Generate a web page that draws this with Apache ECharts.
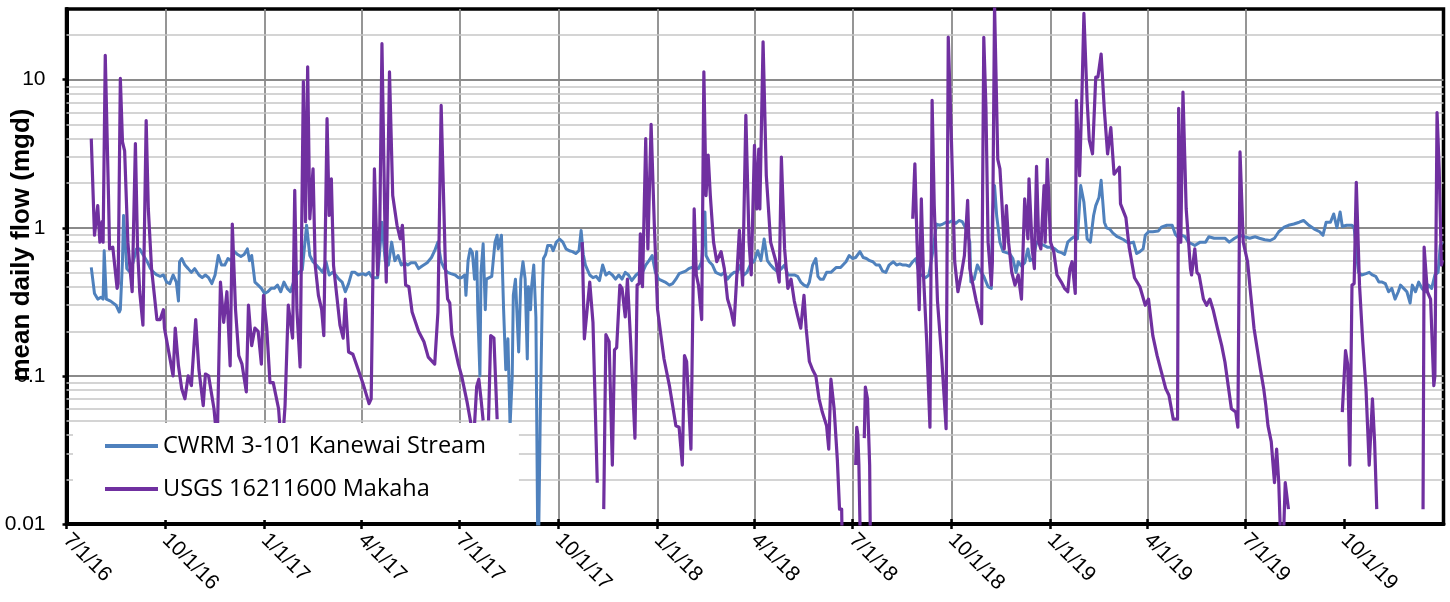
<!DOCTYPE html>
<html><head><meta charset="utf-8">
<script src="https://cdn.jsdelivr.net/npm/echarts@6/dist/echarts.min.js"></script>
<style>html,body{margin:0;padding:0;background:#fff}#c{width:1450px;height:602px}</style>
</head><body><div id="c"></div>
<script>
const seriesNames = ['CWRM 3-101 Kanewai Stream', 'USGS 16211600 Makaha'];
const tickDates = ['2016-07-01','2016-10-01','2017-01-01','2017-04-01','2017-07-01','2017-10-01','2018-01-01','2018-04-01','2018-07-01','2018-10-01','2019-01-01','2019-04-01','2019-07-01','2019-10-01'];
const tickLabels = ['7/1/16','10/1/16','1/1/17','4/1/17','7/1/17','10/1/17','1/1/18','4/1/18','7/1/18','10/1/18','1/1/19','4/1/19','7/1/19','10/1/19'];
const xRange = ['2016-07-01', '2020-01-01'];
const yMajorTicks = [0.01, 0.1, 1, 10];
const yRange = [0.01, 30];
const yMinorGrid = [0.02,0.03,0.04,0.05,0.06,0.07,0.08,0.09,0.2,0.3,0.4,0.5,0.6,0.7,0.8,0.9,2,3,4,5,6,7,8,9,20];

const kanewai = [
['2016-07-24',0.54],['2016-07-27',0.36],['2016-07-30',0.33],['2016-08-02',0.34],['2016-08-04',0.33],['2016-08-05',0.70],['2016-08-07',0.33],['2016-08-11',0.32],['2016-08-16',0.30],['2016-08-19',0.27],['2016-08-20',0.28],['2016-08-22',0.6],['2016-08-23',1.21],['2016-08-26',0.53],['2016-08-29',0.5],['2016-09-01',0.59],['2016-09-04',0.72],['2016-09-07',0.72],['2016-09-10',0.66],['2016-09-14',0.59],['2016-09-17',0.53],['2016-09-20',0.5],['2016-09-23',0.48],['2016-09-26',0.47],['2016-09-29',0.48],
['2016-10-02',0.43],['2016-10-05',0.42],['2016-10-08',0.48],['2016-10-11',0.43],['2016-10-13',0.32],['2016-10-14',0.59],['2016-10-16',0.62],['2016-10-19',0.56],['2016-10-22',0.53],['2016-10-25',0.5],['2016-10-28',0.53],['2016-11-01',0.48],['2016-11-04',0.46],['2016-11-07',0.48],['2016-11-10',0.46],['2016-11-13',0.42],['2016-11-16',0.48],['2016-11-19',0.65],['2016-11-22',0.56],['2016-11-25',0.56],['2016-11-28',0.62],['2016-12-01',0.6],['2016-12-04',0.69],['2016-12-07',0.66],['2016-12-10',0.64],['2016-12-13',0.66],['2016-12-16',0.72],['2016-12-18',0.6],['2016-12-20',0.65],['2016-12-23',0.43],['2016-12-26',0.41],['2016-12-29',0.39],
['2017-01-01',0.36],['2017-01-04',0.37],['2017-01-07',0.39],['2017-01-10',0.39],['2017-01-13',0.41],['2017-01-16',0.37],['2017-01-19',0.43],['2017-01-22',0.39],['2017-01-25',0.37],['2017-01-30',0.48],['2017-02-02',0.5],['2017-02-05',0.52],['2017-02-09',1.04],['2017-02-12',0.65],['2017-02-15',0.59],['2017-02-18',0.56],['2017-02-21',0.53],['2017-02-24',0.5],['2017-02-27',0.59],['2017-03-02',0.48],['2017-03-05',0.5],['2017-03-08',0.48],['2017-03-11',0.45],['2017-03-14',0.43],['2017-03-17',0.37],['2017-03-20',0.42],['2017-03-23',0.5],['2017-03-26',0.5],['2017-03-29',0.48],
['2017-04-02',0.49],['2017-04-05',0.48],['2017-04-08',0.5],['2017-04-11',0.46],['2017-04-16',0.46],['2017-04-20',1.09],['2017-04-23',0.6],['2017-04-26',0.56],['2017-04-29',0.8],['2017-05-02',0.6],['2017-05-05',0.65],['2017-05-08',0.56],['2017-05-11',0.58],['2017-05-14',0.56],['2017-05-17',0.58],['2017-05-21',0.58],['2017-05-24',0.53],['2017-05-27',0.55],['2017-06-01',0.58],['2017-06-05',0.63],['2017-06-08',0.70],['2017-06-11',0.8],['2017-06-14',0.59],['2017-06-17',0.53],['2017-06-20',0.5],['2017-06-23',0.49],['2017-06-27',0.48],['2017-06-30',0.46],
['2017-07-03',0.46],['2017-07-06',0.48],['2017-07-07',0.35],['2017-07-09',0.6],['2017-07-11',0.72],['2017-07-13',0.68],['2017-07-15',0.45],['2017-07-17',0.69],['2017-07-18',0.28],['2017-07-20',0.1],['2017-07-21',0.5],['2017-07-23',0.78],['2017-07-25',0.28],['2017-07-26',0.45],['2017-07-31',0.47],['2017-08-03',0.8],['2017-08-05',0.89],['2017-08-06',0.72],['2017-08-09',0.89],['2017-08-11',0.28],['2017-08-13',0.11],['2017-08-15',0.178],['2017-08-17',0.046],['2017-08-19',0.1],['2017-08-20',0.35],['2017-08-22',0.45],['2017-08-25',0.145],['2017-08-27',0.45],['2017-08-29',0.59],['2017-08-31',0.45],['2017-09-02',0.13],['2017-09-03',0.4],['2017-09-05',0.28],['2017-09-06',0.4],['2017-09-08',0.56],['2017-09-10',0.25],['2017-09-12',0.004],['2017-09-14',0.05],['2017-09-16',0.37],['2017-09-17',0.62],['2017-09-19',0.66],['2017-09-21',0.76],['2017-09-24',0.76],['2017-09-26',0.7],['2017-09-29',0.8],
['2017-10-02',0.84],['2017-10-05',0.8],['2017-10-08',0.72],['2017-10-11',0.7],['2017-10-14',0.69],['2017-10-17',0.67],['2017-10-20',0.7],['2017-10-22',0.96],['2017-10-24',0.66],['2017-10-26',0.56],['2017-10-30',0.48],['2017-11-02',0.46],['2017-11-05',0.47],['2017-11-08',0.44],['2017-11-11',0.56],['2017-11-14',0.48],['2017-11-17',0.5],['2017-11-20',0.48],['2017-11-23',0.45],['2017-11-26',0.48],['2017-11-29',0.45],['2017-12-02',0.5],['2017-12-05',0.48],['2017-12-08',0.44],['2017-12-12',0.48],['2017-12-15',0.5],['2017-12-18',0.5],['2017-12-21',0.56],['2017-12-24',0.6],['2017-12-27',0.65],['2017-12-30',0.5],
['2018-01-02',0.45],['2018-01-05',0.44],['2018-01-08',0.43],['2018-01-12',0.41],['2018-01-15',0.42],['2018-01-18',0.45],['2018-01-21',0.49],['2018-01-24',0.5],['2018-01-27',0.51],['2018-01-30',0.53],['2018-02-02',0.54],['2018-02-05',0.54],['2018-02-08',0.53],['2018-02-11',0.59],['2018-02-14',1.28],['2018-02-15',0.65],['2018-02-18',0.59],['2018-02-21',0.56],['2018-02-24',0.5],['2018-03-01',0.48],['2018-03-04',0.5],['2018-03-07',0.45],['2018-03-10',0.48],['2018-03-13',0.5],['2018-03-16',0.5],['2018-03-19',0.56],['2018-03-22',0.48],['2018-03-25',0.5],['2018-03-28',0.56],
['2018-04-01',0.6],['2018-04-04',0.70],['2018-04-07',0.6],['2018-04-10',0.84],['2018-04-13',0.6],['2018-04-16',0.56],['2018-04-19',0.53],['2018-04-23',0.5],['2018-04-26',0.53],['2018-04-29',0.56],['2018-05-02',0.48],['2018-05-05',0.48],['2018-05-08',0.48],['2018-05-11',0.47],['2018-05-14',0.43],['2018-05-17',0.41],['2018-05-20',0.40],['2018-05-22',0.43],['2018-05-25',0.56],['2018-05-28',0.62],['2018-05-30',0.47],['2018-06-01',0.45],['2018-06-04',0.45],['2018-06-07',0.5],['2018-06-11',0.5],['2018-06-16',0.54],['2018-06-20',0.54],['2018-06-25',0.59],['2018-06-28',0.65],
['2018-07-01',0.62],['2018-07-04',0.63],['2018-07-08',0.69],['2018-07-11',0.63],['2018-07-14',0.62],['2018-07-17',0.6],['2018-07-20',0.59],['2018-07-23',0.56],['2018-07-26',0.56],['2018-07-29',0.51],['2018-08-01',0.5],['2018-08-04',0.56],['2018-08-08',0.59],['2018-08-11',0.56],['2018-08-14',0.57],['2018-08-17',0.56],['2018-08-20',0.56],['2018-08-23',0.55],['2018-08-26',0.59],['2018-08-29',0.62],['2018-09-01',0.49],['2018-09-07',0.46],['2018-09-10',0.48],['2018-09-14',0.72],['2018-09-17',1.06],['2018-09-20',1.04],['2018-09-23',1.06],['2018-09-26',1.09],['2018-09-29',1.09],
['2018-10-02',1.12],['2018-10-05',1.07],['2018-10-08',1.12],['2018-10-11',1.1],['2018-10-14',1.0],['2018-10-18',0.8],['2018-10-19',0.43],['2018-10-22',0.45],['2018-10-25',0.56],['2018-10-28',0.51],['2018-10-31',0.47],['2018-11-04',0.4],['2018-11-07',0.39],['2018-11-08',1.2],['2018-11-10',1.93],['2018-11-12',1.2],['2018-11-15',0.8],['2018-11-18',0.69],['2018-11-21',0.68],['2018-11-24',0.67],['2018-11-27',0.62],['2018-11-30',0.5],['2018-12-02',0.59],['2018-12-05',0.55],['2018-12-08',0.58],['2018-12-11',0.72],['2018-12-13',0.6],['2018-12-16',0.62],['2018-12-19',0.8],['2018-12-22',0.78],['2018-12-26',0.76],['2018-12-29',0.74],
['2019-01-02',0.74],['2019-01-05',0.72],['2019-01-08',0.69],['2019-01-11',0.68],['2019-01-14',0.66],['2019-01-17',0.8],['2019-01-20',0.84],['2019-01-23',0.87],['2019-01-26',0.84],['2019-01-29',1.93],['2019-02-01',1.49],['2019-02-04',0.84],['2019-02-07',0.8],['2019-02-10',1.21],['2019-02-12',1.41],['2019-02-15',1.6],['2019-02-17',2.09],['2019-02-20',1.09],['2019-02-22',1.0],['2019-02-25',0.98],['2019-02-28',0.92],['2019-03-04',0.87],['2019-03-07',0.85],['2019-03-10',0.83],['2019-03-13',0.8],['2019-03-16',0.79],['2019-03-19',0.8],['2019-03-22',0.67],['2019-03-25',0.69],['2019-03-28',0.72],['2019-03-30',0.89],
['2019-04-02',0.94],['2019-04-06',0.94],['2019-04-11',0.95],['2019-04-14',1.01],['2019-04-19',1.04],['2019-04-24',1.04],['2019-04-27',0.9],['2019-04-29',0.87],['2019-05-03',0.89],['2019-05-06',0.87],['2019-05-09',0.8],['2019-05-12',0.78],['2019-05-15',0.76],['2019-05-20',0.8],['2019-05-25',0.8],['2019-05-28',0.87],['2019-06-02',0.85],['2019-06-07',0.85],['2019-06-12',0.85],['2019-06-16',0.8],['2019-06-21',0.85],['2019-06-26',0.89],['2019-06-30',0.87],
['2019-07-05',0.85],['2019-07-10',0.87],['2019-07-14',0.85],['2019-07-19',0.83],['2019-07-24',0.82],['2019-07-28',0.85],['2019-08-01',0.94],['2019-08-06',1.01],['2019-08-10',1.04],['2019-08-15',1.06],['2019-08-20',1.09],['2019-08-24',1.12],['2019-08-29',1.04],['2019-09-03',0.98],['2019-09-08',0.94],['2019-09-11',0.89],['2019-09-14',1.09],['2019-09-18',1.09],['2019-09-21',1.24],['2019-09-24',1.0],['2019-09-27',1.28],['2019-09-29',1.02],
['2019-10-03',1.04],['2019-10-08',1.04],['2019-10-10',1.0],['2019-10-14',0.5],['2019-10-17',0.48],['2019-10-21',0.49],['2019-10-24',0.5],['2019-10-27',0.48],['2019-10-30',0.47],['2019-11-02',0.43],['2019-11-05',0.43],['2019-11-08',0.42],['2019-11-11',0.37],['2019-11-14',0.39],['2019-11-17',0.33],['2019-11-20',0.37],['2019-11-22',0.41],['2019-11-25',0.39],['2019-11-28',0.37],['2019-12-01',0.31],['2019-12-03',0.41],['2019-12-06',0.37],['2019-12-09',0.43],['2019-12-12',0.39],['2019-12-15',0.37],['2019-12-18',0.41],['2019-12-21',0.39],['2019-12-24',0.48],['2019-12-27',0.5],['2019-12-29',0.76],['2019-12-31',0.8]
];

const makaha = [
['2016-07-24',4.0],['2016-07-27',0.89],['2016-07-30',1.41],['2016-08-01',0.80],['2016-08-03',1.1],['2016-08-04',0.8],['2016-08-06',14.6],['2016-08-09',1.65],['2016-08-10',0.72],['2016-08-13',0.74],['2016-08-17',0.39],['2016-08-18',0.42],['2016-08-20',10.2],['2016-08-22',3.8],['2016-08-24',3.3],['2016-08-27',0.80],['2016-08-29',0.53],['2016-08-31',0.37],['2016-09-03',3.7],['2016-09-05',0.72],['2016-09-07',0.37],['2016-09-10',0.22],['2016-09-13',5.3],['2016-09-15',1.34],['2016-09-18',0.53],['2016-09-23',0.24],['2016-09-26',0.24],['2016-09-29',0.28],['2016-09-30',0.21],
['2016-10-04',0.145],['2016-10-08',0.10],['2016-10-10',0.21],['2016-10-13',0.117],['2016-10-16',0.082],['2016-10-19',0.07],['2016-10-22',0.10],['2016-10-25',0.086],['2016-10-29',0.24],['2016-11-01',0.11],['2016-11-05',0.063],['2016-11-07',0.103],['2016-11-10',0.10],['2016-11-15',0.06],['2016-11-18',0.035],['2016-11-21',0.43],['2016-11-24',0.23],['2016-11-27',0.37],['2016-11-30',0.117],['2016-12-02',1.06],['2016-12-05',0.28],['2016-12-08',0.137],['2016-12-11',0.12],['2016-12-15',0.078],['2016-12-17',0.30],['2016-12-20',0.16],['2016-12-23',0.21],['2016-12-26',0.20],['2016-12-29',0.12],['2016-12-31',0.35],
['2017-01-03',0.21],['2017-01-06',0.09],['2017-01-09',0.09],['2017-01-14',0.06],['2017-01-17',0.03],['2017-01-20',0.063],['2017-01-23',0.30],['2017-01-27',0.18],['2017-01-29',1.79],['2017-01-31',0.28],['2017-02-03',0.115],['2017-02-06',9.7],['2017-02-08',1.1],['2017-02-10',12.2],['2017-02-12',1.15],['2017-02-15',2.5],['2017-02-17',0.56],['2017-02-20',0.35],['2017-02-23',0.28],['2017-02-25',0.187],['2017-02-28',5.45],['2017-03-02',1.21],['2017-03-04',2.14],['2017-03-06',0.56],['2017-03-09',0.35],['2017-03-12',0.22],['2017-03-15',0.18],['2017-03-17',0.33],['2017-03-20',0.145],['2017-03-24',0.14],['2017-03-29',0.11],
['2017-04-03',0.086],['2017-04-08',0.065],['2017-04-10',0.07],['2017-04-13',2.5],['2017-04-16',0.48],['2017-04-18',1.04],['2017-04-20',17.5],['2017-04-23',0.8],['2017-04-24',0.43],['2017-04-27',11.3],['2017-04-30',1.65],['2017-05-04',1.04],['2017-05-07',0.84],['2017-05-09',1.04],['2017-05-12',0.41],['2017-05-15',0.40],['2017-05-18',0.27],['2017-05-24',0.20],['2017-05-29',0.17],['2017-06-02',0.134],['2017-06-08',0.12],['2017-06-11',0.27],['2017-06-14',6.7],['2017-06-18',0.53],['2017-06-20',0.33],['2017-06-22',0.31],['2017-06-24',0.19],['2017-06-30',0.12],
['2017-07-03',0.10],['2017-07-08',0.067],['2017-07-12',0.046],['2017-07-15',0.047],['2017-07-17',0.085],['2017-07-19',0.095],['2017-07-21',0.07],['2017-07-23',0.05],['2017-07-25',null],['2017-07-28',0.05],['2017-07-30',0.187],['2017-08-02',0.18],['2017-08-05',0.051],['2017-08-07',null],
['2017-10-23',0.8],['2017-10-25',0.178],['2017-10-30',0.43],['2017-11-02',0.23],['2017-11-06',0.019],['2017-11-09',null],['2017-11-12',0.0126],['2017-11-14',0.19],['2017-11-17',0.17],['2017-11-20',0.025],['2017-11-22',0.15],['2017-11-24',0.155],['2017-11-27',0.41],['2017-11-29',0.39],['2017-12-02',0.25],['2017-12-04',0.45],['2017-12-07',0.17],['2017-12-11',0.038],['2017-12-13',0.41],['2017-12-15',0.42],['2017-12-16',0.91],['2017-12-18',0.4],['2017-12-21',4.0],['2017-12-23',0.72],['2017-12-26',5.0],['2017-12-29',1.04],
['2018-01-01',0.28],['2018-01-04',0.19],['2018-01-07',0.13],['2018-01-12',0.086],['2018-01-15',0.063],['2018-01-18',0.046],['2018-01-21',0.045],['2018-01-24',0.025],['2018-01-26',0.137],['2018-01-28',0.125],['2018-02-01',0.032],['2018-02-04',1.34],['2018-02-06',0.48],['2018-02-08',0.41],['2018-02-11',0.24],['2018-02-13',11.3],['2018-02-15',1.65],['2018-02-17',3.1],['2018-02-19',1.65],['2018-02-22',0.8],['2018-02-25',0.59],['2018-03-01',0.69],['2018-03-04',0.53],['2018-03-07',0.33],['2018-03-10',0.28],['2018-03-13',0.22],['2018-03-18',0.96],['2018-03-21',0.41],['2018-03-24',5.75],['2018-03-27',0.8],['2018-03-29',0.48],
['2018-04-01',3.6],['2018-04-03',1.34],['2018-04-05',3.4],['2018-04-06',1.34],['2018-04-09',18.0],['2018-04-12',2.25],['2018-04-13',1.75],['2018-04-16',0.8],['2018-04-21',0.59],['2018-04-24',0.43],['2018-04-26',3.0],['2018-04-29',0.72],['2018-05-02',0.39],['2018-05-05',0.45],['2018-05-08',0.32],['2018-05-11',0.256],['2018-05-14',0.21],['2018-05-17',0.35],['2018-05-19',0.21],['2018-05-22',0.125],['2018-05-25',0.11],['2018-05-28',0.10],['2018-05-31',0.07],['2018-06-03',0.057],['2018-06-07',0.046],['2018-06-09',0.032],['2018-06-11',0.095],['2018-06-14',0.06],['2018-06-17',0.027],['2018-06-19',0.0126],['2018-06-21',0.0126],['2018-06-22',0.004],['2018-06-24',null],
['2018-07-04',0.025],['2018-07-05',0.045],['2018-07-06',0.04],['2018-07-07',0.025],['2018-07-09',0.004],['2018-07-10',null],['2018-07-12',0.038],['2018-07-13',0.084],['2018-07-15',0.07],['2018-07-17',0.025],['2018-07-18',0.004],['2018-07-20',null],
['2018-08-26',1.15],['2018-08-28',2.7],['2018-08-30',0.8],['2018-09-01',0.28],['2018-09-03',1.57],['2018-09-05',0.48],['2018-09-08',0.17],['2018-09-11',0.045],['2018-09-13',7.25],['2018-09-15',1.41],['2018-09-18',0.32],['2018-09-22',0.13],['2018-09-26',0.044],['2018-09-28',19.4],
['2018-10-01',3.8],['2018-10-04',0.59],['2018-10-07',0.37],['2018-10-10',0.48],['2018-10-13',0.65],['2018-10-16',1.53],['2018-10-18',0.53],['2018-10-21',0.41],['2018-10-24',0.32],['2018-10-27',0.26],['2018-10-29',0.225],['2018-10-31',19.3],['2018-11-02',6.5],['2018-11-04',0.8],['2018-11-07',0.41],['2018-11-08',0.59],['2018-11-10',32],['2018-11-13',2.9],['2018-11-15',2.5],['2018-11-17',1.41],['2018-11-19',0.72],['2018-11-21',1.41],['2018-11-23',0.8],['2018-11-26',0.5],['2018-11-29',0.41],['2018-12-02',0.48],['2018-12-05',0.33],['2018-12-08',1.57],['2018-12-11',0.84],['2018-12-12',2.14],['2018-12-15',0.72],['2018-12-17',0.53],['2018-12-19',2.6],['2018-12-21',0.8],['2018-12-23',0.72],['2018-12-26',1.93],['2018-12-27',0.8],['2018-12-29',2.9],['2018-12-31',1.21],
['2019-01-01',0.8],['2019-01-04',0.69],['2019-01-07',0.48],['2019-01-11',0.43],['2019-01-14',0.39],['2019-01-17',0.37],['2019-01-19',0.53],['2019-01-21',0.59],['2019-01-24',0.36],['2019-01-25',7.25],['2019-01-28',2.25],['2019-01-30',7.1],['2019-02-01',28],['2019-02-04',7.2],['2019-02-06',3.9],['2019-02-09',3.16],['2019-02-12',10.4],['2019-02-14',10.4],['2019-02-17',14.9],['2019-02-20',6.2],['2019-02-23',3.15],['2019-02-26',4.75],['2019-03-01',2.3],['2019-03-06',2.56],['2019-03-07',1.45],['2019-03-12',1.17],['2019-03-15',0.74],['2019-03-20',0.46],['2019-03-25',0.40],['2019-03-30',0.30],
['2019-04-02',0.33],['2019-04-06',0.187],['2019-04-10',0.137],['2019-04-14',0.106],['2019-04-18',0.082],['2019-04-21',0.074],['2019-04-25',0.051],['2019-04-29',0.051],['2019-04-30',6.4],['2019-05-02',0.8],['2019-05-04',8.25],['2019-05-07',1.34],['2019-05-11',0.53],['2019-05-12',0.48],['2019-05-15',0.72],['2019-05-17',0.5],['2019-05-19',0.48],['2019-05-23',0.33],['2019-05-26',0.30],['2019-05-29',0.33],['2019-06-01',0.28],['2019-06-05',0.21],['2019-06-09',0.16],['2019-06-12',0.124],['2019-06-15',0.086],['2019-06-18',0.06],['2019-06-22',0.057],['2019-06-24',0.045],['2019-06-26',3.25],['2019-06-29',0.8],
['2019-07-03',0.59],['2019-07-06',0.35],['2019-07-09',0.21],['2019-07-12',0.152],['2019-07-15',0.11],['2019-07-18',0.082],['2019-07-20',0.063],['2019-07-22',0.046],['2019-07-25',0.036],['2019-07-28',0.019],['2019-07-30',0.032],['2019-08-01',0.019],['2019-08-04',0.004],['2019-08-07',0.019],['2019-08-10',0.0126],['2019-08-12',null],
['2019-09-29',0.057],['2019-10-02',0.148],['2019-10-04',0.12],['2019-10-06',0.025],['2019-10-08',0.41],['2019-10-10',0.42],['2019-10-12',2.03],['2019-10-15',0.41],['2019-10-18',0.17],['2019-10-21',0.082],['2019-10-24',0.025],['2019-10-27',0.07],['2019-10-29',0.036],['2019-10-31',0.0126],['2019-11-02',null],
['2019-12-13',0.0126],['2019-12-14',0.74],['2019-12-17',0.37],['2019-12-20',0.33],['2019-12-23',0.086],['2019-12-24',0.1],['2019-12-26',6.0],['2019-12-28',2.5],['2019-12-30',0.56],['2019-12-31',0.6]
];

const COLORS = ['#4F81BD', '#7030A0'];
function ts(s) { const p = s.split('-').map(Number); return Date.UTC(p[0], p[1] - 1, p[2]); }
const toXY = arr => arr.map(d => [ts(d[0]), d[1] === null ? '-' : d[1]]);
const tickTs = tickDates.map(ts);
const xMin = ts(xRange[0]), xMax = ts(xRange[1]);

function xLabel(v) {
  const i = tickTs.findIndex(t => Math.abs(t - v) < 43200000);
  return i < 0 ? '' : tickLabels[i];
}
function yLabel(v) {
  const m = yMajorTicks.find(t => Math.abs(Math.log10(v / t)) < 0.01);
  return m === undefined ? '' : String(m);
}

const chart = echarts.init(document.getElementById('c'), null, {renderer: 'canvas'});
const tickStyle = {color: '#000', width: 2.5};
chart.setOption({
  animation: false,
  backgroundColor: '#fff',
  grid: {left: 66.5, right: 6.5, top: 9, bottom: 78, show: true, borderColor: '#000', borderWidth: 3.5, containLabel: false},
  xAxis: [{
    type: 'value', min: xMin, max: xMax,
    axisLine: {show: true, onZero: false, lineStyle: {color: '#000', width: 4}},
    axisTick: {show: true, customValues: tickTs, length: 5, lineStyle: tickStyle},
    axisLabel: {customValues: tickTs, formatter: xLabel, rotate: -45, fontSize: 21, color: '#000', margin: 13, fontFamily: 'Liberation Sans'},
    splitLine: {show: true, showMinLine: false, showMaxLine: false, lineStyle: {color: '#8a8a8a', width: 1.8}}
  }, {
    type: 'value', min: xMin, max: xMax, position: 'bottom',
    axisLine: {show: false, onZero: false},
    axisTick: {show: true, inside: true, customValues: tickTs, length: 5, lineStyle: tickStyle},
    axisLabel: {show: false, customValues: tickTs},
    splitLine: {show: false}
  }],
  yAxis: {
    type: 'log', logBase: 10, min: yRange[0], max: yRange[1],
    axisLine: {show: true, lineStyle: {color: '#000', width: 4}},
    axisTick: {show: true, length: 4, lineStyle: tickStyle},
    axisLabel: {formatter: yLabel, fontSize: 21, color: '#000', margin: 21, fontFamily: 'Liberation Sans', showMaxLabel: false},
    splitLine: {show: true, showMinLine: false, showMaxLine: false, lineStyle: {color: '#8a8a8a', width: 1.8}}
  },
  legend: {
    data: seriesNames, orient: 'vertical', left: 73, top: 423,
    backgroundColor: '#fff', padding: [10, 33, 18, 32], itemGap: 17,
    itemWidth: 53, itemHeight: 4, icon: 'rect', selectedMode: false,
    textStyle: {fontSize: 23.5, fontFamily: 'Open Sans', color: '#000', lineHeight: 26}
  },
  graphic: [{
    type: 'text', x: 22, y: 245, rotation: Math.PI / 2,
    style: {text: 'mean daily flow (mgd)', fontSize: 26, fontWeight: 'bold', fontFamily: 'Liberation Sans', fill: '#000', align: 'center', verticalAlign: 'middle'}
  }],
  series: [{
    type: 'line', name: '_minorGrid', data: [], z: 1, silent: true,
    markLine: {
      silent: true, z: 1, symbol: ['none', 'none'], label: {show: false}, animation: false,
      lineStyle: {color: '#c6c6c6', width: 1.6, type: 'solid'},
      emphasis: {disabled: true},
      data: yMinorGrid.map(v => [{coord: [xMin, v]}, {coord: [xMax, v]}])
    }
  }, {
    type: 'line', name: seriesNames[0], data: toXY(kanewai), showSymbol: false, symbol: 'none',
    lineStyle: {color: COLORS[0], width: 3, join: 'round'}, itemStyle: {color: COLORS[0]}, z: 2, connectNulls: false
  }, {
    type: 'line', name: seriesNames[1], data: toXY(makaha), showSymbol: false, symbol: 'none',
    lineStyle: {color: COLORS[1], width: 3.2, join: 'round'}, itemStyle: {color: COLORS[1]}, z: 3, connectNulls: false
  }]
});
</script></body></html>
